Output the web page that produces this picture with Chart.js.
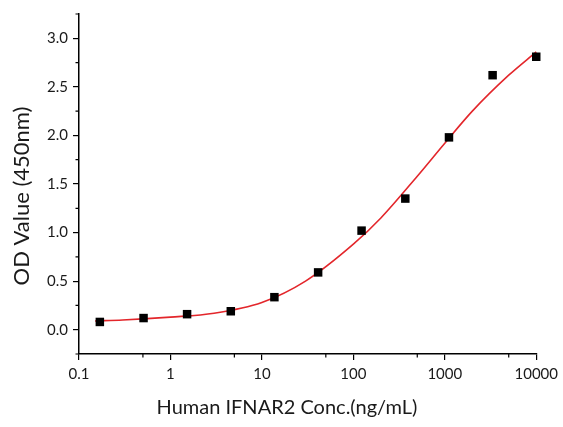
<!DOCTYPE html>
<html>
<head>
<meta charset="utf-8">
<script src="https://cdn.jsdelivr.net/npm/chart.js@4"></script>
<style>
  html, body { margin: 0; padding: 0; background: #fff; }
</style>
</head>
<body>
<canvas id="odChart" width="563" height="427"></canvas>
<script>
// measured points (3-fold dilution series)
const concentrations = [0.169, 0.508, 1.52, 4.57, 13.7, 41.2, 123, 370, 1111, 3333, 10000];
const odValues = [0.08, 0.12, 0.16, 0.19, 0.335, 0.59, 1.02, 1.35, 1.98, 2.62, 2.81];

// fitted curve
const curveX = [0.15, 0.3, 1, 3, 10, 30, 100, 200, 500, 1000, 2000, 5000, 10000];
const curveY = [0.09, 0.10, 0.13, 0.17, 0.28, 0.50, 0.88, 1.15, 1.58, 1.92, 2.25, 2.62, 2.86];

// axis ticks
const xTicks = [0.1, 1, 10, 100, 1000, 10000];
const xMinorTicks = [0.5, 5, 50, 500, 5000];
const yTicks = [0, 0.5, 1.0, 1.5, 2.0, 2.5, 3.0];
const yMinorTicks = [-0.25, 0.25, 0.75, 1.25, 1.75, 2.25, 2.75, 3.25];

const FONT = "Lato, 'Open Sans', sans-serif";

// minor ticks + axis titles (Origin style)
const extrasPlugin = {
    id: 'extras',
    afterDraw(chart) {
        const ctx = chart.ctx;
        const xs = chart.scales.x;
        const ys = chart.scales.y;
        const area = chart.chartArea;
        ctx.save();
        ctx.strokeStyle = '#000';
        ctx.lineWidth = 1.2;
        ctx.beginPath();
        xMinorTicks.forEach(v => {
            const px = xs.getPixelForValue(v);
            ctx.moveTo(px, area.bottom);
            ctx.lineTo(px, area.bottom + 3.5);
        });
        yMinorTicks.forEach(v => {
            const py = ys.getPixelForValue(v);
            ctx.moveTo(area.left, py);
            ctx.lineTo(area.left - 3.5, py);
        });
        ctx.stroke();

        ctx.fillStyle = '#1a1a1a';
        ctx.textAlign = 'center';
        ctx.textBaseline = 'middle';
        ctx.font = "20px " + FONT;
        ctx.fillText('Human IFNAR2 Conc.(ng/mL)', 287, 408);

        ctx.font = "22px " + FONT;
        ctx.translate(22, 196);
        ctx.rotate(-Math.PI / 2);
        ctx.fillText('OD Value (450nm)', 0, 0);
        ctx.restore();
    }
};

new Chart(document.getElementById('odChart').getContext('2d'), {
    type: 'scatter',
    data: {
        datasets: [
            {
                label: 'OD',
                data: concentrations.map((c, i) => ({ x: c, y: odValues[i] })),
                pointStyle: 'rect',
                pointRadius: 6,
                pointHoverRadius: 6,
                backgroundColor: '#000',
                borderColor: '#000',
                borderWidth: 0,
                showLine: false,
                clip: false,
                order: 0
            },
            {
                label: 'Fit',
                type: 'line',
                data: curveX.map((c, i) => ({ x: c, y: curveY[i] })),
                borderColor: '#e3262b',
                borderWidth: 1.6,
                pointRadius: 0,
                fill: false,
                cubicInterpolationMode: 'monotone',
                clip: false,
                order: 1
            }
        ]
    },
    options: {
        responsive: false,
        animation: false,
        layout: { padding: { top: 8, right: 22, left: 0, bottom: 0 } },
        plugins: {
            legend: { display: false },
            tooltip: { enabled: false }
        },
        scales: {
            x: {
                type: 'logarithmic',
                min: 0.1,
                max: 10000,
                afterBuildTicks: (scale) => { scale.ticks = xTicks.map(v => ({ value: v })); },
                afterFit: (scale) => { scale.height = 73; },
                ticks: {
                    autoSkip: false,
                    maxRotation: 0,
                    padding: 5,
                    color: '#1a1a1a',
                    font: { family: FONT, size: 15 },
                    callback: (v) => String(v)
                },
                grid: { drawOnChartArea: false, drawTicks: true, tickLength: 6, color: '#000', lineWidth: 1.2 },
                border: { display: true, color: '#000', width: 1.5 }
            },
            y: {
                min: -0.25,
                max: 3.25,
                afterBuildTicks: (scale) => { scale.ticks = yTicks.map(v => ({ value: v })); },
                afterFit: (scale) => { scale.width = 79; },
                ticks: {
                    padding: 5,
                    color: '#1a1a1a',
                    font: { family: FONT, size: 15 },
                    callback: (v) => Number(v).toFixed(1)
                },
                grid: { drawOnChartArea: false, drawTicks: true, tickLength: 6, color: '#000', lineWidth: 1.2 },
                border: { display: true, color: '#000', width: 1.5 }
            }
        }
    },
    plugins: [extrasPlugin]
});
</script>
</body>
</html>
